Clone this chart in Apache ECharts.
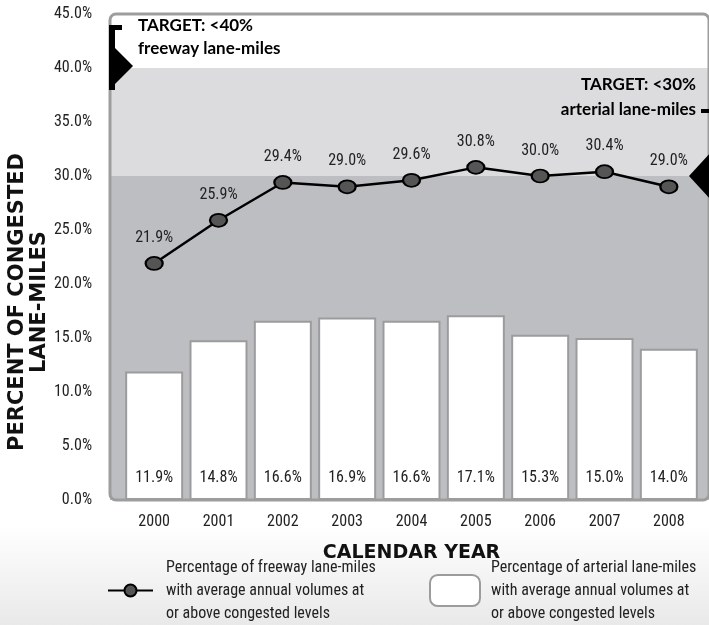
<!DOCTYPE html>
<html>
<head>
<meta charset="utf-8">
<script src="https://cdn.jsdelivr.net/npm/echarts@6/dist/echarts.min.js"></script>
<style>
  html, body { margin: 0; padding: 0; background: #fff; }
  #chart { width: 709px; height: 625px; }
</style>
</head>
<body>
<div id="chart"></div>
<script>
// Calendar years on the horizontal axis
const years = ['2000', '2001', '2002', '2003', '2004', '2005', '2006', '2007', '2008'];
// Percent of freeway lane-miles at or above congested levels
const freewayPct = [21.9, 25.9, 29.4, 29.0, 29.6, 30.8, 30.0, 30.4, 29.0];
// Percent of arterial lane-miles at or above congested levels
const arterialPct = [11.9, 14.8, 16.6, 16.9, 16.6, 17.1, 15.3, 15.0, 14.0];
// Performance targets
const freewayTarget = 40;
const arterialTarget = 30;
// Value axis range and step
const yMin = 0, yMax = 45, yStep = 5;

const narrow = "'Liberation Sans Narrow', 'Roboto Condensed', 'DejaVu Sans Condensed', 'Liberation Sans', sans-serif";
const ink = '#222';
const pct = v => Number(v).toFixed(1) + '%';

const chart = echarts.init(document.getElementById('chart'), null, { renderer: 'canvas' });

const option = {
  animation: false,
  backgroundColor: {
    type: 'linear', x: 0, y: 0, x2: 0, y2: 1,
    colorStops: [
      { offset: 0, color: '#ffffff' },
      { offset: 0.84, color: '#ffffff' },
      { offset: 1, color: '#e9e9e9' }
    ]
  },
  grid: [
    // plot frame holding the target bands
    { left: 110, right: -8, top: 14, bottom: 125, show: true, backgroundColor: '#fff', borderWidth: 0 },
    // data area
    { left: 122, right: 8, top: 14, bottom: 125 }
  ],
  xAxis: [
    { type: 'value', gridIndex: 0, min: 0, max: 1, show: false },
    {
      type: 'category', gridIndex: 1, data: years,
      axisLine: { show: false }, axisTick: { show: false },
      axisLabel: { margin: 14, color: ink, fontFamily: narrow, fontSize: 16 },
      name: 'CALENDAR YEAR', nameLocation: 'middle', nameGap: 44,
      nameTextStyle: { color: '#111', fontFamily: "'DejaVu Sans', sans-serif", fontWeight: 'bold', fontSize: 19 }
    }
  ],
  yAxis: [
    { type: 'value', gridIndex: 0, min: yMin, max: yMax, interval: yStep, show: false },
    {
      type: 'value', gridIndex: 1, min: yMin, max: yMax, interval: yStep,
      axisLine: { show: false }, axisTick: { show: false }, splitLine: { show: false },
      axisLabel: { margin: 30, color: ink, fontFamily: narrow, fontSize: 16, formatter: pct }
    }
  ],
  legend: [
    {
      data: ['freeway'], left: 107, top: 556, padding: 0, itemWidth: 45, itemHeight: 15,
      formatter: () => 'Percentage of freeway lane-miles\nwith average annual volumes at\nor above congested levels',
      textStyle: { color: ink, fontFamily: narrow, fontSize: 16, lineHeight: 23, padding: [0, 0, 0, 8] }
    },
    {
      data: ['arterial'], left: 429, top: 556, padding: 0, itemWidth: 50, itemHeight: 31,
      formatter: () => 'Percentage of arterial lane-miles\nwith average annual volumes at\nor above congested levels',
      textStyle: { color: ink, fontFamily: narrow, fontSize: 16, lineHeight: 23, padding: [0, 0, 0, 6] }
    }
  ],
  series: [
    {
      // target bands behind the data
      name: 'bands', type: 'line', xAxisIndex: 0, yAxisIndex: 0, data: [], silent: true,
      markArea: {
        silent: true,
        data: [
          [{ yAxis: arterialTarget, itemStyle: { color: '#dcdcde' } }, { yAxis: freewayTarget }],
          [{ yAxis: yMin, itemStyle: { color: '#bdbec2' } }, { yAxis: arterialTarget }]
        ]
      }
    },
    {
      name: 'arterial', type: 'bar', xAxisIndex: 1, yAxisIndex: 1, data: arterialPct,
      barWidth: 58,
      itemStyle: { color: '#ffffff', borderColor: '#9c9c9c', borderWidth: 2 },
      label: { show: true, position: 'insideBottom', distance: 14, color: ink, fontFamily: narrow, fontSize: 16, formatter: p => pct(p.value) },
      z: 3
    },
    {
      name: 'freeway', type: 'line', xAxisIndex: 1, yAxisIndex: 1, data: freewayPct,
      symbol: 'circle', symbolSize: [17, 13],
      lineStyle: { color: '#000', width: 2.5 },
      itemStyle: { color: '#555', borderColor: '#000', borderWidth: 2 },
      label: { show: true, position: 'top', distance: 10, color: ink, fontFamily: narrow, fontSize: 16, formatter: p => pct(p.value) },
      z: 5
    }
  ]
};

chart.setOption(option);

// Frame and target markers placed from the axis scales
const px = v => chart.convertToPixel({ xAxisIndex: 0 }, v);
const py = v => chart.convertToPixel({ yAxisIndex: 0 }, v);
const fx0 = px(0), fx1 = px(1), fyTop = py(yMax), fyBot = py(yMin);
const y40 = py(freewayTarget), y30 = py(arterialTarget);
const boldFont = "bold 17px Lato, 'Liberation Sans', sans-serif";

chart.setOption({
  graphic: [
    {
      type: 'rect', z: 50,
      shape: { x: fx0, y: fyTop, width: fx1 - fx0, height: fyBot - fyTop, r: 6 },
      style: { fill: null, stroke: '#9d9d9d', lineWidth: 3 }
    },
    // freeway target bracket and pointer
    { type: 'rect', z: 60, shape: { x: fx0 - 1, y: y40 - 43, width: 6, height: 65 }, style: { fill: '#000' } },
    { type: 'rect', z: 60, shape: { x: fx0 - 1, y: y40 - 43, width: 13, height: 5 }, style: { fill: '#000' } },
    { type: 'polygon', z: 60, shape: { points: [[fx0 - 1, y40 - 26], [fx0 + 23, y40 - 2], [fx0 - 1, y40 + 22]] }, style: { fill: '#000' } },
    { type: 'text', z: 60, style: { text: 'TARGET: <40%', x: fx0 + 28, y: y40 - 42, font: boldFont, fill: '#000', textVerticalAlign: 'middle' } },
    { type: 'text', z: 60, style: { text: 'freeway lane-miles', x: fx0 + 28, y: y40 - 19, font: boldFont, fill: '#000', textVerticalAlign: 'middle' } },
    // arterial target label and pointer
    { type: 'text', z: 60, style: { text: 'TARGET: <30%', x: 696, y: y30 - 91, font: boldFont, fill: '#000', textAlign: 'right', textVerticalAlign: 'middle' } },
    { type: 'text', z: 60, style: { text: 'arterial lane-miles', x: 696, y: y30 - 66, font: boldFont, fill: '#000', textAlign: 'right', textVerticalAlign: 'middle' } },
    { type: 'rect', z: 60, shape: { x: 701, y: y30 - 67, width: 9, height: 4 }, style: { fill: '#000' } },
    { type: 'polygon', z: 60, shape: { points: [[689, y30], [713, y30 - 26], [713, y30 + 26]] }, style: { fill: '#000' } },
    // vertical axis title
    {
      type: 'text', z: 60, x: 29, y: 302, rotation: Math.PI / 2,
      style: {
        text: 'PERCENT OF CONGESTED\nLANE-MILES', x: 0, y: 0,
        font: "bold 21px 'DejaVu Sans', sans-serif", fill: '#111',
        textAlign: 'center', textVerticalAlign: 'middle', lineHeight: 22
      }
    }
  ]
});
</script>
</body>
</html>
